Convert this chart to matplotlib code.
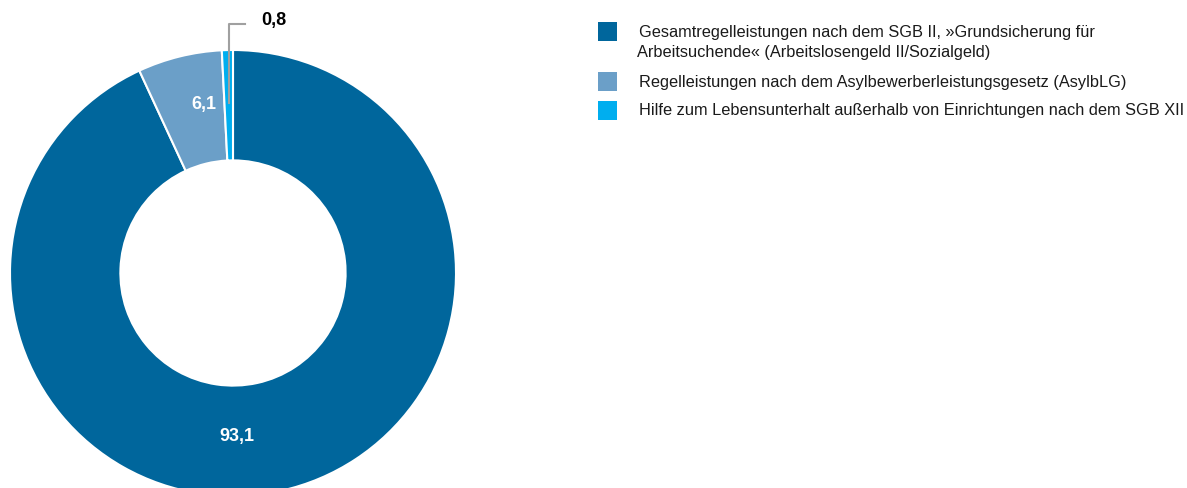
import matplotlib.pyplot as plt
from matplotlib.patches import Rectangle

plt.rcParams['font.family'] = ['Liberation Sans', 'DejaVu Sans']

labels = [['Gesamtregelleistungen nach dem SGB II, \u00bbGrundsicherung f\u00fcr',
           'Arbeitsuchende\u00ab (Arbeitslosengeld II/Sozialgeld)'],
          ['Regelleistungen nach dem Asylbewerberleistungsgesetz (AsylbLG)'],
          ['Hilfe zum Lebensunterhalt au\u00dferhalb von Einrichtungen nach dem SGB XII']]
values = [93.1, 6.1, 0.8]
value_text = ['93,1', '6,1', '0,8']
colors = ['#00669c', '#6b9fc8', '#00aeef']

W, H = 1187, 488
fig = plt.figure(figsize=(W / 100, H / 100), dpi=100)
ax = fig.add_axes([0, 0, 1, 1])

cx, cy, R = 233, H - 273, 223
ax.pie(values, colors=colors, startangle=90, counterclock=False,
       center=(cx, cy), radius=R, frame=True,
       wedgeprops=dict(width=R * 0.495, edgecolor='white', linewidth=1.5))
ax.set_xlim(0, W)
ax.set_ylim(0, H)
ax.axis('off')

# value labels
ax.text(237, H - 436, value_text[0], color='white', fontsize=13, fontweight='bold', ha='center', va='center')
ax.text(204, H - 105, value_text[1], color='white', fontsize=13, fontweight='bold', ha='center', va='center')
ax.text(261, H - 21, value_text[2], color='black', fontsize=13, fontweight='bold', ha='left', va='center')
ax.plot([229, 229, 245], [H - 103, H - 24, H - 24], color='#a0a0a0', lw=1.5)

# legend
box_y = [31, 81, 110]
text_y = [[32, 52], [82], [110]]
text_x = [[639, 637], [639], [639]]
for lines, col, by, tys, txs in zip(labels, colors, box_y, text_y, text_x):
    ax.add_patch(Rectangle((598, H - by - 9.5), 19, 19, color=col, lw=0))
    for line, ty, tx in zip(lines, tys, txs):
        ax.text(tx, H - ty, line, fontsize=11.8, ha='left', va='center', color='#1a1a1a')

fig.savefig('out.png', dpi=100)
